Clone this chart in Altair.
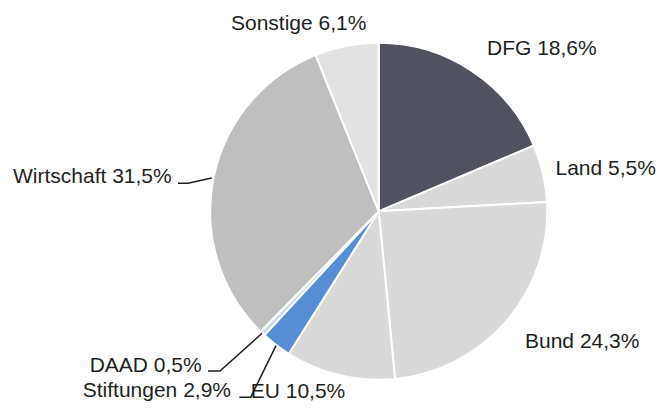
import altair as alt
import pandas as pd

# ---- data ----
categories = ["DFG", "Land", "Bund", "EU", "Stiftungen", "DAAD", "Wirtschaft", "Sonstige"]
shares = [18.6, 5.5, 24.3, 10.5, 2.9, 0.5, 31.5, 6.1]
colors = ["#50525f", "#d9d9d9", "#d9d9d9", "#d9d9d9", "#558ed5", "#c6d9f1", "#bfbfbf", "#e2e2e2"]

# ---- label layout (chart pixels) ----
label_x = [479, 547.5, 517, 242.7, 223, 193.7, 163.7, 223]
label_y = [47, 167, 339.7, 390, 389, 364, 175, 22]
label_align = ["left", "left", "left", "left", "right", "right", "right", "left"]

# leader lines
leader_names = ["Wirtschaft", "DAAD", "Stiftungen"]
leader_x = [[170, 180, 203.7], [200, 212, 254], [231.3, 242.7, 268]]
leader_y = [[175.3, 175.3, 170], [363, 363, 325.3], [389.3, 389.3, 337.7]]

W, H = 649, 393
CX, CY, R = 370.7, 203.3, 168.5
FONT = "Liberation Sans"
TXT = "#1f1f1f"

df = pd.DataFrame({"cat": categories, "share": shares, "idx": list(range(len(categories)))})
df["label"] = [f"{c} {v:.1f}%".replace(".", ",") for c, v in zip(categories, shares)]
df["lx"] = label_x
df["ly"] = label_y
df["align"] = label_align

rows = []
for n, xs_, ys_ in zip(leader_names, leader_x, leader_y):
    for i, (x, y) in enumerate(zip(xs_, ys_)):
        rows.append({"name": n, "o": i, "x": x, "y": y})
ldf = pd.DataFrame(rows)

pie = alt.Chart(df).mark_arc(radius=R, stroke="white", strokeWidth=2).encode(
    theta=alt.Theta("share:Q", stack=True),
    order=alt.Order("idx:Q"),
    color=alt.Color("cat:N", scale=alt.Scale(domain=categories, range=colors), legend=None),
    x=alt.value(CX),
    y=alt.value(CY),
)

xs = alt.Scale(domain=[0, W], range=[0, W])
ys = alt.Scale(domain=[0, H], range=[0, H])

lines = alt.Chart(ldf).mark_line(color="#1f1f1f", strokeWidth=1.5).encode(
    x=alt.X("x:Q", scale=xs, axis=None),
    y=alt.Y("y:Q", scale=ys, axis=None),
    detail="name:N",
    order="o:Q",
)

def text_layer(al):
    return alt.Chart(df).transform_filter(alt.datum.align == al).mark_text(
        align=al, baseline="alphabetic", font=FONT, fontSize=21, color=TXT
    ).encode(
        x=alt.X("lx:Q", scale=xs, axis=None),
        y=alt.Y("ly:Q", scale=ys, axis=None),
        text="label:N",
    )

chart = alt.layer(pie, lines, text_layer("left"), text_layer("right")).properties(
    width=W, height=H, autosize=alt.AutoSizeParams(type="none"), padding=0,
    background="white",
).configure_view(strokeWidth=0, stroke="transparent")

chart.save("out.html", embed_options={"renderer": "svg", "actions": False})
